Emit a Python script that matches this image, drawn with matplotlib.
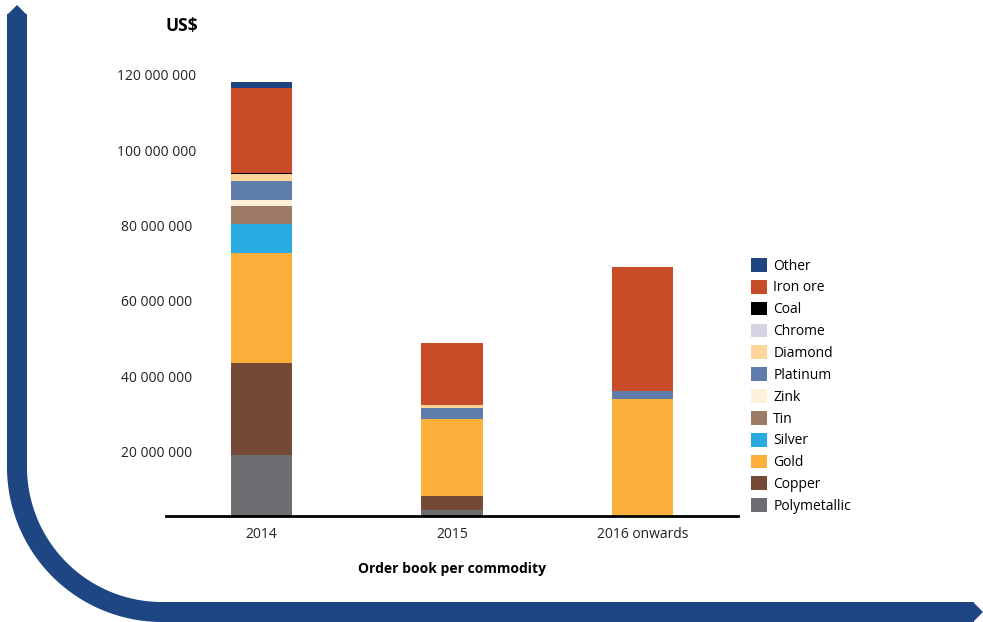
import matplotlib
matplotlib.use("Agg")
import matplotlib.pyplot as plt
import numpy as np
from matplotlib.patches import Polygon
from matplotlib.lines import Line2D

plt.rcParams['font.family'] = ['Open Sans', 'DejaVu Sans']

categories = ["2014", "2015", "2016 onwards"]
commodities = ["Polymetallic", "Copper", "Gold", "Silver", "Tin", "Zink",
               "Platinum", "Diamond", "Chrome", "Coal", "Iron ore", "Other"]
# values in US$ (millions)
polymetallic = [19.1, 4.5, 0.0]
copper       = [24.5, 3.8, 0.0]
gold         = [29.1, 20.3, 34.0]
silver       = [7.8, 0.0, 0.0]
tin          = [4.7, 0.0, 0.0]
zink         = [1.5, 0.0, 0.0]
platinum     = [5.1, 3.0, 2.1]
diamond      = [1.8, 0.8, 0.0]
chrome       = [0.0, 0.0, 0.0]
coal         = [0.4, 0.0, 0.0]
iron_ore     = [22.4, 16.4, 32.9]
other        = [1.6, 0.0, 0.0]
yticks_m = [20, 40, 60, 80, 100, 120]
ytick_labels = ["20 000 000", "40 000 000", "60 000 000", "80 000 000",
                "100 000 000", "120 000 000"]

series = [polymetallic, copper, gold, silver, tin, zink, platinum, diamond,
          chrome, coal, iron_ore, other]
colors = ["#6D6E71", "#744A37", "#FBB03B", "#29ABE2", "#9C7A66", "#FFF0DC",
          "#5F7DAA", "#FED699", "#D4D4E2", "#000000", "#C84C28", "#1F4583"]

W, H = 983, 622
fig = plt.figure(figsize=(W / 100, H / 100), dpi=100)

# decorative frame (full-figure axes in pixel coords)
bg = fig.add_axes([0, 0, 1, 1], zorder=-1)
bg.set_xlim(0, W)
bg.set_ylim(H, 0)
bg.axis("off")
navy = "#1E4683"
lw = 20 * 72 / 100
cx, cy, r = 162, 467, 145
t = np.linspace(np.pi, np.pi / 2, 80)
xs = np.concatenate([[17], cx + r * np.cos(t), [974]])
ys = np.concatenate([[14], cy + r * np.sin(t), [612]])
bg.add_line(Line2D(xs, ys, color=navy, lw=lw, solid_capstyle="butt",
                   solid_joinstyle="round"))
bg.add_patch(Polygon([[7, 15], [17, 5], [27, 15]], closed=True, color=navy, lw=0))
bg.add_patch(Polygon([[973, 602], [983, 612], [973, 622]], closed=True, color=navy, lw=0))

# main axes
px0 = 527.0
spm = 3.77
ax_top, ax_bot = 60, 516
ax = fig.add_axes([166 / W, (H - ax_bot) / H, 572 / W, (ax_bot - ax_top) / H])
ax.set_ylim((px0 - ax_bot) / spm, (px0 - ax_top) / spm)
ax.set_xlim(-0.5, 2.5)

x = np.arange(len(categories))
bottom = np.zeros(len(categories))
handles = []
for name, vals, c in zip(commodities, series, colors):
    vals = np.array(vals)
    b = ax.bar(x, vals, 0.32, bottom=bottom, color=c, label=name, linewidth=0)
    handles.append(b)
    bottom += vals

for s in ["top", "right", "left"]:
    ax.spines[s].set_visible(False)
ax.spines["bottom"].set_linewidth(2)
ax.spines["bottom"].set_color("black")
ax.tick_params(axis="both", length=0)
ax.set_xticks(x)
ax.set_xticklabels(categories, fontsize=10, color="#222222")
ax.tick_params(axis="x", pad=8)
ax.set_yticks(yticks_m)
ax.set_yticklabels(ytick_labels, fontsize=10, color="#222222")
ax.tick_params(axis="y", pad=6.5)
for lbl in ax.get_yticklabels():
    lbl.set_horizontalalignment("center")
ax.set_xlabel("Order book per commodity", fontsize=10, fontweight="bold", labelpad=14)

fig.text(182 / W, 1 - 26 / H, "US$", fontsize=12.5, fontweight="bold",
         ha="center", va="center")

leg = fig.legend(handles[::-1], commodities[::-1], loc="upper left",
                 bbox_to_anchor=(751 / W, 1 - 258 / H), frameon=False,
                 fontsize=10, handlelength=1.15, handleheight=1.15,
                 handletextpad=0.45, labelspacing=0.45, borderpad=0,
                 borderaxespad=0)

fig.savefig("out.png", dpi=100)
